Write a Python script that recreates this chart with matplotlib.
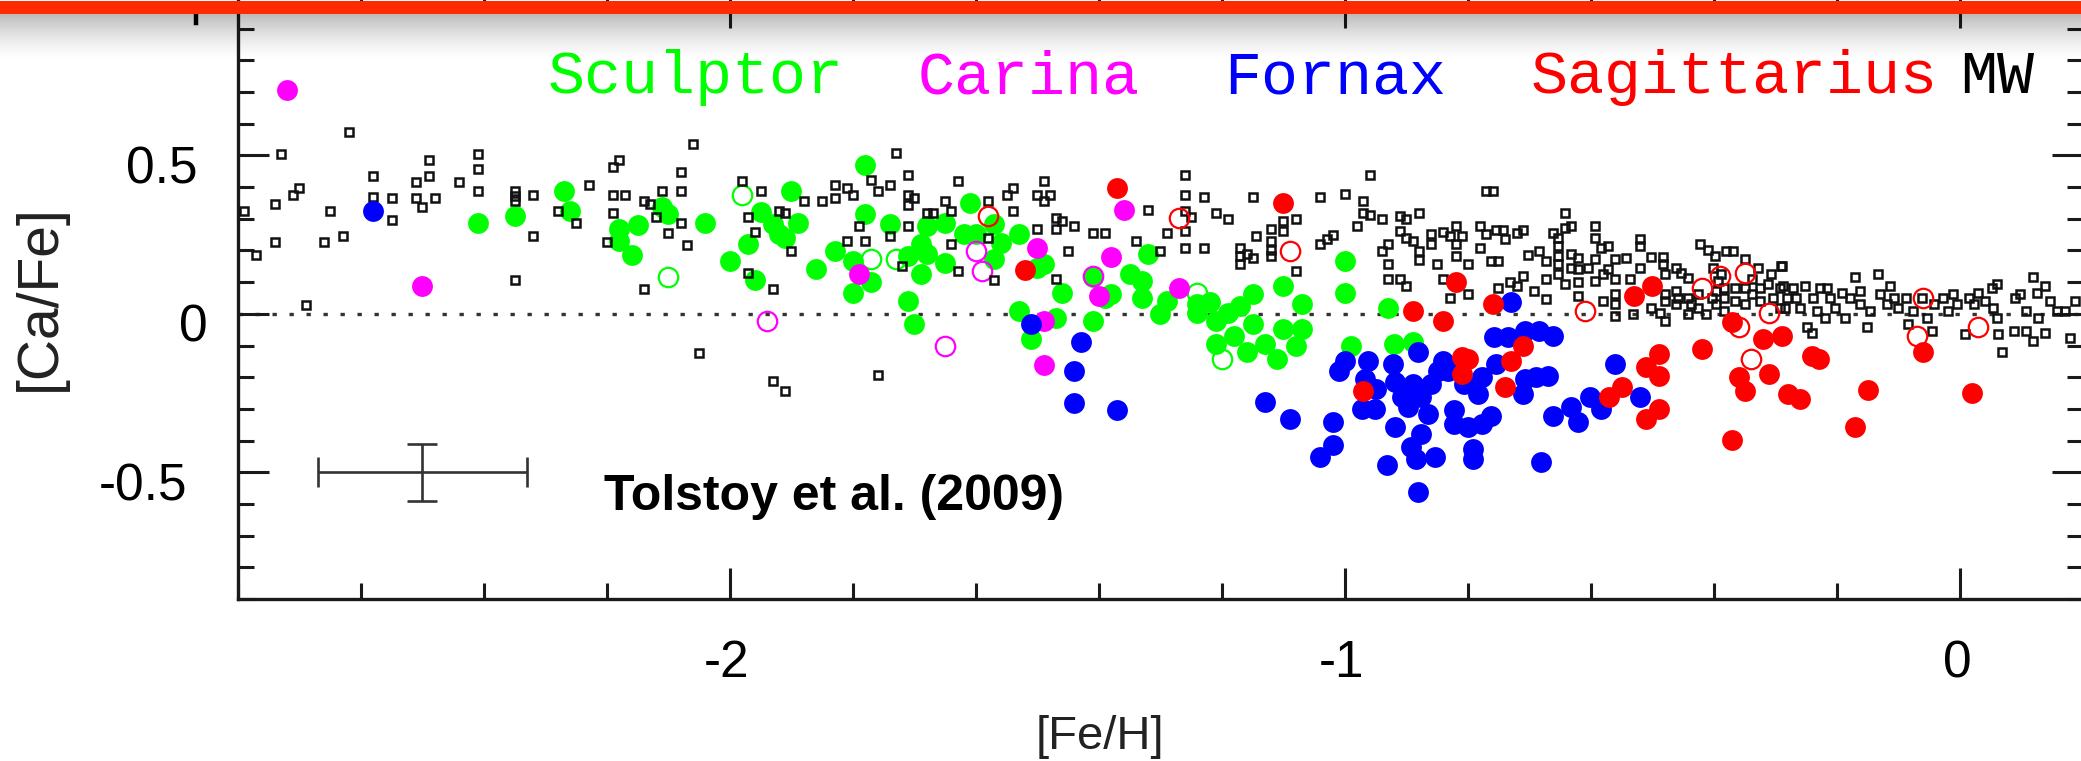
import numpy as np
import matplotlib
matplotlib.use("Agg")
import matplotlib.pyplot as plt
import matplotlib.transforms as mtransforms
from matplotlib.patches import Rectangle
from matplotlib.lines import Line2D

# ---------------------------------------------------------------- data
# Milky Way stars: [Fe/H], [Ca/Fe]
mw_feh = [
    -2.62, -2.73, -2.70, -2.71, -2.74, -2.79, -2.74, -2.77, -2.65, -2.66, -2.63, -2.69,
    -2.58, -2.58, -2.55, -2.55, -2.51, -2.49, -2.49, -2.51, -2.50, -2.48, -2.44, -2.41,
    -2.41, -2.41, -2.35, -2.35, -2.35, -2.32, -2.32, -2.35,
    -2.06, -2.18, -2.19, -2.23, -2.19, -2.17, -2.19, -2.28, -2.25, -2.14, -2.13, -2.11,
    -2.08, -2.08, -2.08, -2.10, -2.07, -2.12, -2.20, -2.14, -2.05, -1.93, -1.91, -1.98,
    -1.95, -1.97, -1.96, -1.97, -1.93, -1.92, -1.91, -1.90, -1.88, -1.85, -1.83, -1.83,
    -1.81, -1.80, -1.79, -1.81, -1.78,
    -1.73, -1.71, -1.74, -1.76, -1.77, -1.71, -1.70, -1.71, -1.65, -1.63, -1.64, -1.68,
    -1.67, -1.71, -1.74, -1.64, -1.72, -1.63, -1.57, -1.58, -1.58, -1.55, -1.54, -1.54,
    -1.50, -1.49, -1.49, -1.48, -1.50, -1.47, -1.46, -1.47, -1.44, -1.45, -1.47, -1.76,
    -1.41, -1.39, -1.34, -1.32, -1.30, -1.29,
    -1.26, -1.26, -1.26, -1.26, -1.26, -1.23, -1.25, -1.23, -1.21, -1.19, -1.15, -1.145,
    -1.17, -1.17, -1.17, -1.16, -1.15, -1.12, -1.12, -1.12, -1.12, -1.10, -1.10, -1.08,
    -1.08, -1.04, -1.00, -1.04, -1.03, -1.02, -0.98, -0.97, -0.97, -0.96, -0.96, -0.94,
    -0.94, -0.93, -0.93, -0.93, -0.91, -0.90, -0.91, -0.90, -0.89, -0.88, -0.88, -0.88,
    -0.91, -0.90, -0.86, -0.86, -0.84, -0.85, -0.83, -0.82, -0.82, -0.82, -0.81, -0.84,
    -0.83, -0.80, -0.80, -0.78, -0.78, -0.77, -0.77,
    -0.76, -0.754, -0.743, -0.740, -0.762, -0.751, -0.751, -0.721, -0.711, -0.732, -0.721,
    -0.711, -0.702, -0.684, -0.692, -0.673, -0.673, -0.673, -0.662, -0.654, -0.654, -0.654,
    -0.654, -0.654, -0.643, -0.643, -0.632, -0.642, -0.632, -0.632, -0.621, -0.621, -0.621,
    -0.621, -0.605, -0.593, -0.593, -0.583, -0.572, -0.593, -0.593, -0.580, -0.572, -0.561,
    -0.561, -0.580, -0.561, -0.561, -0.561, -0.543, -0.537, -0.532, -0.521, -0.521, -0.521,
    -0.503, -0.502, -0.487, -0.483, -0.483, -0.480, -0.480, -0.480, -0.480, -0.461, -0.461,
    -0.461, -0.453, -0.442, -0.442, -0.442, -0.423, -0.410, -0.399, -0.380, -0.369, -0.402,
    -0.388, -0.426, -0.426, -0.413, -0.396, -0.396, -0.383, -0.383, -0.383, -0.366, -0.366,
    -0.350, -0.350, -0.350, -0.339, -0.339, -0.328, -0.326, -0.326, -0.312, -0.307, -0.304,
    -0.291, -0.293, -0.293, -0.459, -0.437, -0.404, -0.393,
    -0.290, -0.287, -0.282, -0.285, -0.271, -0.266, -0.260, -0.252, -0.249, -0.241, -0.239,
    -0.228, -0.233, -0.217, -0.211, -0.220, -0.203, -0.192, -0.187, -0.179, -0.171, -0.163,
    -0.163, -0.152, -0.146, -0.133, -0.130, -0.119, -0.114, -0.108, -0.100, -0.087, -0.084,
    -0.076, -0.062, -0.054, -0.046, -0.043, -0.027, -0.019, -0.011, -0.005, 0.008, 0.014,
    0.022, 0.030, 0.041, 0.052, 0.060, 0.054, 0.060, 0.062, 0.068, 0.087, 0.089, 0.098,
    0.108, 0.108, 0.119, 0.119, 0.125, 0.127, 0.138, 0.138, 0.146, 0.158, 0.171, 0.179,
    0.187,
]
mw_cafe = [
    0.575, 0.505, 0.397, 0.376, 0.347, 0.326, 0.226, 0.186, 0.326, 0.226, 0.247, 0.027,
    0.436, 0.368, 0.366, 0.296, 0.416, 0.485, 0.436, 0.366, 0.336, 0.366, 0.416, 0.505,
    0.457, 0.387, 0.387, 0.371, 0.355, 0.376, 0.247, 0.106,
    0.537, 0.486, 0.465, 0.408, 0.376, 0.376, 0.317, 0.326, 0.287, 0.357, 0.347, 0.387,
    0.448, 0.387, 0.287, 0.256, 0.217, 0.305, 0.227, 0.078, -0.124, -0.211, -0.242, 0.418,
    0.387, 0.305, 0.258, 0.130, 0.078, 0.326, 0.319, 0.198, 0.357, 0.357, 0.408, 0.366,
    0.397, 0.376, 0.277, 0.230, 0.230,
    0.507, 0.439, 0.408, 0.387, 0.424, 0.376, 0.366, 0.345, 0.357, 0.418, 0.326, 0.319,
    0.319, 0.277, 0.245, 0.219, 0.151, 0.135, 0.106, 0.355, 0.240, 0.376, 0.397, 0.326,
    0.376, 0.418, 0.357, 0.376, 0.269, 0.303, 0.292, 0.269, 0.277, 0.198, 0.109, -0.193,
    0.256, 0.256, 0.230, 0.327, 0.198, 0.256,
    0.439, 0.376, 0.324, 0.263, 0.209, 0.368, 0.305, 0.209, 0.319, 0.298, 0.368, 0.247,
    0.209, 0.182, 0.156, 0.188, 0.177, 0.269, 0.230, 0.203, 0.182, 0.292, 0.261, 0.298,
    0.135, 0.368, 0.378, 0.219, 0.235, 0.248, 0.277, 0.355, 0.319, 0.437, 0.313, 0.298,
    0.198, 0.219, 0.156, 0.109, 0.308, 0.298, 0.261, 0.240, 0.230, 0.319, 0.198, 0.169,
    0.109, 0.088, 0.251, 0.219, 0.258, 0.156, 0.245, 0.277, 0.219, 0.182, 0.245, 0.109,
    0.051, 0.156, 0.062, 0.277, 0.209, 0.251, 0.387,
    0.387, 0.266, 0.266, 0.235, 0.167, 0.167, 0.083, 0.256, 0.266, 0.099, 0.088,
    0.119, 0.186, 0.198, 0.072, 0.167, 0.109, 0.046, 0.256, 0.240, 0.214, 0.182,
    0.156, 0.125, 0.319, 0.272, 0.277, 0.093, 0.188, 0.146, 0.177, 0.141, 0.099,
    0.057, 0.146, 0.277, 0.240, 0.209, 0.214, 0.172, 0.104, 0.125, 0.141, 0.172,
    0.109, 0.041, 0.062, 0.030, -0.006, 0.177, 0.109, -0.001, 0.235, 0.214, 0.146,
    0.179, 0.020, 0.004, 0.179, 0.158, 0.125, 0.062, 0.041, -0.022, 0.146, 0.072,
    0.030, 0.130, 0.114, 0.051, -0.001, 0.219, 0.203, 0.182, 0.198, 0.198, 0.146,
    0.125, 0.062, 0.020, -0.001, 0.072, 0.030, 0.083, 0.051, 0.009, 0.083, 0.041,
    0.172, 0.083, 0.030, 0.109, 0.062, 0.146, 0.083, 0.041, 0.093, 0.125, 0.051,
    0.151, 0.083, 0.020, 0.051, 0.030, 0.051, 0.104,
    0.151, 0.088, 0.051, 0.020, 0.083, 0.051, 0.020, 0.088, -0.043, -0.059, 0.051,
    0.083, 0.009, 0.083, 0.051, -0.012, 0.020, 0.067, -0.012, 0.051, 0.116, 0.072,
    0.030, -0.043, 0.009, 0.127, 0.062, 0.030, 0.088, 0.051, 0.020, 0.051, -0.032,
    0.009, 0.051, -0.012, -0.053, 0.030, 0.051, 0.009, 0.062, 0.030, -0.064, 0.051,
    0.030, 0.067, 0.041, 0.083, 0.093, 0.020, -0.012, -0.064, -0.122, -0.053, 0.051, 0.062,
    -0.053, 0.009, -0.085, 0.117, 0.067, -0.012, 0.088, -0.059, 0.041, 0.009, 0.009, -0.075,
    0.041,
]

# Sculptor
scl_feh = [
    -2.41, -2.35, -2.27, -2.26, -2.18, -2.15, -2.18, -2.16, -2.11, -2.10, -2.04, -2.00,
    -1.97, -1.96, -1.95, -1.93, -1.92, -1.90, -1.89, -1.91, -1.86, -1.83, -1.80, -1.78,
    -1.78, -1.80,
    -1.74, -1.77, -1.71, -1.70, -1.69, -1.68, -1.65, -1.69, -1.71, -1.68, -1.65, -1.61,
    -1.62, -1.60, -1.57, -1.56, -1.57, -1.53, -1.49, -1.50, -1.46, -1.53, -1.47, -1.51,
    -1.41, -1.41, -1.39, -1.35, -1.33, -1.32, -1.33, -1.30, -1.29, -1.38,
    -1.24, -1.22, -1.24, -1.21, -1.19, -1.17, -1.15, -1.15, -1.21, -1.18, -1.16, -1.13,
    -1.11, -1.10, -1.10, -1.07, -1.07, -1.08, -1.00, -1.00, -0.93, -0.92, -0.89, -0.99,
]
scl_cafe = [
    0.287, 0.308, 0.389, 0.326, 0.269, 0.279, 0.230, 0.186, 0.336, 0.315, 0.287, 0.167,
    0.219, 0.106, 0.320, 0.282, 0.251, 0.389, 0.287, 0.240, 0.141, 0.198, 0.067, 0.471,
    0.314, 0.167,
    0.282, 0.099, 0.039, -0.032, 0.125, 0.277, 0.287, 0.219, 0.182, 0.188, 0.161, 0.350,
    0.251, 0.251, 0.282, 0.224, 0.172, 0.251, 0.156, 0.146, 0.067, 0.009, -0.012, -0.080,
    -0.022, 0.117, 0.051, 0.125, 0.104, 0.188, 0.051, -0.001, 0.041, 0.062,
    0.030, 0.036, 0.004, -0.022, 0.004, 0.025, 0.062, -0.032, -0.095, -0.069, -0.122, -0.095,
    -0.143, 0.088, -0.048, 0.030, -0.048, -0.101, 0.167, 0.067, 0.020, -0.095, -0.090, -0.100,
]
scl_open_feh = [-1.98, -2.10, -1.77, -1.73, -1.20, -1.24]
scl_open_cafe = [0.376, 0.117, 0.172, 0.172, -0.143, 0.067]

# Carina
car_feh = [-2.72, -2.50, -1.79, -1.50, -1.49, -1.49, -1.36, -1.38, -1.40, -1.27]
car_cafe = [0.707, 0.088, 0.127, 0.209, -0.022, -0.160, 0.327, 0.180, 0.057, 0.081]
car_open_feh = [-1.94, -1.60, -1.59, -1.65, -1.41]
car_open_cafe = [-0.022, 0.198, 0.135, -0.101, 0.119]

# Fornax
fnx_feh = [
    -2.58, -1.51, -1.43, -1.44, -1.44, -1.37, -1.13, -1.09, -1.02, -1.02, -1.04, -1.01,
    -1.00, -0.963, -0.968, -0.949, -0.973, -0.952, -0.922, -0.919, -0.908, -0.919, -0.881,
    -0.889, -0.876, -0.860, -0.898, -0.865, -0.876, -0.892, -0.884, -0.854, -0.932, -0.881,
    -0.833, -0.822, -0.822, -0.800, -0.778, -0.784, -0.792, -0.792, -0.778, -0.849, -0.730,
    -0.757, -0.708, -0.684, -0.662, -0.754, -0.708, -0.689, -0.670, -0.711, -0.762, -0.662,
    -0.632, -0.621, -0.602, -0.583, -0.561, -0.521, -0.681, -0.807, -0.84, -0.735,
]
fnx_cafe = [
    0.326, -0.032, -0.090, -0.179, -0.281, -0.302, -0.279, -0.331, -0.342, -0.415, -0.452,
    -0.179, -0.148, -0.148, -0.205, -0.237, -0.300, -0.300, -0.158, -0.216, -0.263, -0.358,
    -0.122, -0.221, -0.263, -0.221, -0.295, -0.315, -0.378, -0.420, -0.457, -0.452, -0.478,
    -0.562, -0.179, -0.305, -0.347, -0.358, -0.200, -0.253, -0.425, -0.457, -0.347, -0.179,
    0.036, -0.074, -0.053, -0.053, -0.069, -0.158, -0.205, -0.200, -0.195, -0.253, -0.321,
    -0.321, -0.295, -0.342, -0.263, -0.300, -0.158, -0.263, -0.468, -0.220, -0.150, -0.074,
]

# Sagittarius
sgr_feh = [
    -1.37, -1.52, -1.10, -0.89, -0.82, -0.84, -0.81, -0.81, -0.80, -0.97, -0.76, -0.71,
    -0.73, -0.74, -0.53, -0.50, -0.49, -0.51, -0.49, -0.55, -0.57, -0.49, -0.51, -0.42,
    -0.37, -0.36, -0.35, -0.37, -0.32, -0.29, -0.31, -0.28, -0.24, -0.23, -0.26, -0.15,
    -0.17, -0.06, 0.02,
]
sgr_cafe = [
    0.397, 0.137, 0.350, 0.009, 0.099, -0.022, -0.137, -0.190, -0.143, -0.242, 0.030,
    -0.101, -0.148, -0.232, 0.057, 0.088, -0.127, -0.169, -0.195, -0.232, -0.263, -0.300,
    -0.331, -0.111, -0.027, -0.200, -0.242, -0.399, -0.080, -0.069, -0.190, -0.253,
    -0.132, -0.143, -0.268, -0.240, -0.358, -0.122, -0.251,
]
sgr_open_feh = [-1.58, -1.27, -1.09, -0.61, -0.42, -0.39, -0.35, -0.31, -0.36, -0.34,
                -0.06, -0.07, 0.03]
sgr_open_cafe = [0.308, 0.301, 0.198, 0.009, 0.081, 0.119, 0.128, 0.004, -0.043, -0.143,
                 0.051, -0.069, -0.043]

# Typical uncertainty
err_feh, err_cafe = -2.50, -0.50
err_dfeh, err_dcafe = 0.17, 0.09

galaxies = ["Sculptor", "Carina", "Fornax", "Sagittarius", "MW"]
galaxy_colors = ["#00ff00", "#ff00ff", "#0000ff", "#ff0000", "#000000"]

x_ticks = [-2, -1, 0]
x_tick_labels = ["-2", "-1", "0"]
y_ticks = [-0.5, 0, 0.5]
y_tick_labels = ["-0.5", "0", "0.5"]

# ---------------------------------------------------------------- figure
W, H = 2081, 761
fig = plt.figure(figsize=(W / 100, H / 100), dpi=100)
fig.patch.set_facecolor("white")


def fx(px):
    return px / W


def fy(py):
    return 1 - py / H


ax = fig.add_axes([fx(238), fy(599), 1845 / W, 602 / H])
ax.set_xlim(-2.8, 0.2)
ax.set_ylim(-0.9, 1.0)

for s in ax.spines.values():
    s.set_linewidth(2.4)
    s.set_color("#1a1a1a")

ax.set_xticks(x_ticks)
ax.set_yticks(y_ticks + [1.0])
ax.xaxis.set_minor_locator(matplotlib.ticker.MultipleLocator(0.2))
ax.yaxis.set_minor_locator(matplotlib.ticker.MultipleLocator(0.1))
ax.tick_params(which="both", direction="in", top=True, right=True,
               labelbottom=False, labelleft=False, color="#1a1a1a")
ax.tick_params(which="major", length=22, width=2.2)
ax.tick_params(which="minor", length=11.5, width=2.2)

# tick labels
tick_font = dict(family="Liberation Sans", fontsize=37, color="black")
ylab_trans = mtransforms.blended_transform_factory(fig.transFigure, ax.transData)
ylab_shift = mtransforms.ScaledTranslation(0, -0.28, fig.dpi_scale_trans)
y_label_right = {"-0.5": 187, "0": 208, "0.5": 197}
for v, lab in zip(y_ticks, y_tick_labels):
    ax.text(fx(y_label_right[lab]), v, lab, ha="right", va="baseline",
            transform=ylab_trans + ylab_shift, clip_on=False, **tick_font)
# foot of the top label, peeking out below the header rule
fig.add_artist(Line2D([fx(196), fx(196)], [fy(13), fy(23)], lw=3.2,
                      color="black", transform=fig.transFigure))

xlab_trans = mtransforms.blended_transform_factory(ax.transData, ax.transAxes)
xlab_shift = mtransforms.ScaledTranslation(-0.03, -0.78, fig.dpi_scale_trans)
for v, lab in zip(x_ticks, x_tick_labels):
    ax.text(v, 0, lab, ha="center", va="baseline",
            transform=xlab_trans + xlab_shift, clip_on=False, **tick_font)

# axis titles
fig.text(fx(1100), fy(737), "[Fe/H]", ha="center", va="center",
         family="Liberation Sans", fontsize=34, color="#222222")
fig.text(fx(40), fy(298), "[Ca/Fe]", ha="center", va="center", rotation=90,
         family="Liberation Sans", fontsize=41, color="#222222")

# solar reference line
ax.axhline(0, color="#333333", lw=2.4, dashes=(1.3, 3.8), zorder=1)

# typical error bar
ax.errorbar([err_feh], [err_cafe], xerr=[err_dfeh], yerr=[err_dcafe], fmt="none",
            ecolor="#333333", elinewidth=1.9, capsize=11, capthick=1.9, zorder=2)

# data
ms_fill, ms_open = 15, 14
ax.plot(scl_feh, scl_cafe, "o", ms=ms_fill, mfc=galaxy_colors[0], mec="none", ls="none", zorder=3)
ax.plot(scl_open_feh, scl_open_cafe, "o", ms=ms_open, mfc="none", mec=galaxy_colors[0],
        mew=1.6, ls="none", zorder=3)
ax.plot(car_feh, car_cafe, "o", ms=ms_fill, mfc=galaxy_colors[1], mec="none", ls="none", zorder=4)
ax.plot(car_open_feh, car_open_cafe, "o", ms=ms_open, mfc="none", mec=galaxy_colors[1],
        mew=1.6, ls="none", zorder=4)
ax.plot(mw_feh, mw_cafe, "s", ms=5.4, mfc="none", mec="#111111", mew=1.8, ls="none",
        zorder=5)
ax.plot(fnx_feh, fnx_cafe, "o", ms=ms_fill, mfc=galaxy_colors[2], mec="none", ls="none", zorder=6)
ax.plot(sgr_feh, sgr_cafe, "o", ms=ms_fill, mfc=galaxy_colors[3], mec="none", ls="none", zorder=7)
ax.plot(sgr_open_feh, sgr_open_cafe, "o", ms=ms_open, mfc="none", mec=galaxy_colors[3],
        mew=1.6, ls="none", zorder=7)

# galaxy key
key_left = [548, 918, 1224, 1531, 1960]
for name, col, xl in zip(galaxies, galaxy_colors, key_left):
    fig.text(fx(xl), fy(93), name, ha="left", va="baseline", color=col,
             family="Liberation Mono", fontsize=44.5)

fig.text(fx(604), fy(510), "Tolstoy et al. (2009)", ha="left", va="baseline",
         family="Liberation Sans", fontweight="bold", fontsize=36, color="black")

# slide header: shadow band and red rule
shade = fig.add_axes([0, fy(62), 1, 49 / H], zorder=20)
shade.axis("off")
t = np.linspace(0, 1, 200)[:, None]
alpha = 0.28 * (1 - t) ** 1.5
rgba = np.zeros((200, 2, 4))
rgba[..., 3] = alpha
shade.imshow(rgba, aspect="auto", extent=[0, 1, 0, 1], interpolation="bilinear")
fig.patches.append(Rectangle((0, fy(14)), 1, 13 / H, transform=fig.transFigure,
                             facecolor="#ff2a00", edgecolor="none", zorder=30))

fig.savefig("out.png", dpi=100, facecolor="white")
